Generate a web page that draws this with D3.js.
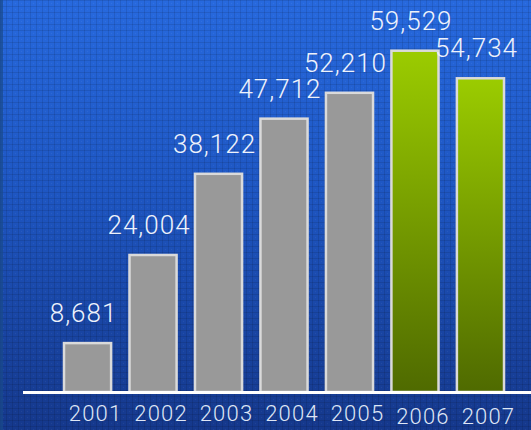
<!DOCTYPE html>
<html>
<head>
<meta charset="utf-8">
<script src="https://cdn.jsdelivr.net/npm/d3@7"></script>
<style>
  html, body { margin: 0; padding: 0; background: #1d55c0; }
  svg { display: block; }
</style>
</head>
<body>
<script>
// Yearly totals, 2001–2007
const years = ["2001", "2002", "2003", "2004", "2005", "2006", "2007"];
const totals = [8681, 24004, 38122, 47712, 52210, 59529, 54734];
const highlighted = ["2006", "2007"];

const W = 531, H = 430;
const baseY = 392;
const FONT = "Roboto, 'Liberation Sans', Arial, sans-serif";

const svg = d3.select("body").append("svg")
  .attr("width", W).attr("height", H);

const defs = svg.append("defs");

// Background: vertical blue gradient
const bg = defs.append("linearGradient").attr("id", "bg")
  .attr("x1", 0).attr("y1", 0).attr("x2", 0).attr("y2", 1);
bg.append("stop").attr("offset", "0%").attr("stop-color", "#2769de");
bg.append("stop").attr("offset", "45%").attr("stop-color", "#1e56c2");
bg.append("stop").attr("offset", "100%").attr("stop-color", "#15388c");

// Fine grid texture laid over the background
const grid = defs.append("pattern").attr("id", "grid")
  .attr("width", 6).attr("height", 6).attr("patternUnits", "userSpaceOnUse");
grid.append("rect").attr("x", 0).attr("y", 0).attr("width", 6).attr("height", 1)
  .attr("fill", "#000").attr("opacity", 0.10);
grid.append("rect").attr("x", 0).attr("y", 0).attr("width", 1).attr("height", 6)
  .attr("fill", "#000").attr("opacity", 0.10);
grid.append("rect").attr("x", 3).attr("y", 3).attr("width", 1).attr("height", 1)
  .attr("fill", "#fff").attr("opacity", 0.05);

// Green highlight bars fade from lime to olive
const green = defs.append("linearGradient").attr("id", "green")
  .attr("x1", 0).attr("y1", 0).attr("x2", 0).attr("y2", 1);
green.append("stop").attr("offset", "0%").attr("stop-color", "#9bcc00");
green.append("stop").attr("offset", "100%").attr("stop-color", "#4f6a00");

svg.append("rect").attr("width", W).attr("height", H).attr("fill", "url(#bg)");
svg.append("rect").attr("width", W).attr("height", H).attr("fill", "url(#grid)");
svg.append("rect").attr("width", 3).attr("height", H).attr("fill", "#1a4a8a").attr("opacity", 0.7);

// Scales
const x = d3.scaleBand().domain(years).range([63, 505]).paddingInner(0.25).paddingOuter(0).align(0);
const y = d3.scaleLinear().domain([0, 60000]).range([baseY, 47]);

const fmt = d3.format(",");

// Bars
svg.append("g").selectAll("rect").data(years).join("rect")
  .attr("x", d => x(d) + 1)
  .attr("y", (d, i) => y(totals[i]) + 1)
  .attr("width", x.bandwidth() - 2)
  .attr("height", (d, i) => y(0) - y(totals[i]) - 1)
  .attr("fill", d => highlighted.includes(d) ? "url(#green)" : "#999999")
  .attr("stroke", "#dadada")
  .attr("stroke-width", 2.5);

// Baseline
svg.append("line")
  .attr("x1", 23).attr("x2", W)
  .attr("y1", baseY + 0.5).attr("y2", baseY + 0.5)
  .attr("stroke", "#ffffff").attr("stroke-width", 3);

// Value labels above each bar
svg.append("g").selectAll("text").data(years).join("text")
  .attr("x", d => x(d) + x.bandwidth() / 2 - 4)
  .attr("y", (d, i) => y(totals[i]) - 20)
  .attr("text-anchor", "middle")
  .attr("font-family", FONT)
  .attr("font-weight", 300)
  .attr("font-size", 26)
  .attr("letter-spacing", 1)
  .attr("fill", "#eef2fb")
  .text((d, i) => fmt(totals[i]));

// Year axis
const axis = svg.append("g")
  .attr("transform", `translate(8,${baseY + 29})`)
  .call(d3.axisBottom(x).tickSize(0).tickPadding(0));
axis.select(".domain").remove();
axis.selectAll("text")
  .attr("font-family", FONT)
  .attr("font-weight", 300)
  .attr("font-size", 22)
  .attr("letter-spacing", 1.2)
  .attr("fill", "#dfe6f5")
  .attr("dy", d => highlighted.includes(d) ? 3 : 0);
</script>
</body>
</html>
